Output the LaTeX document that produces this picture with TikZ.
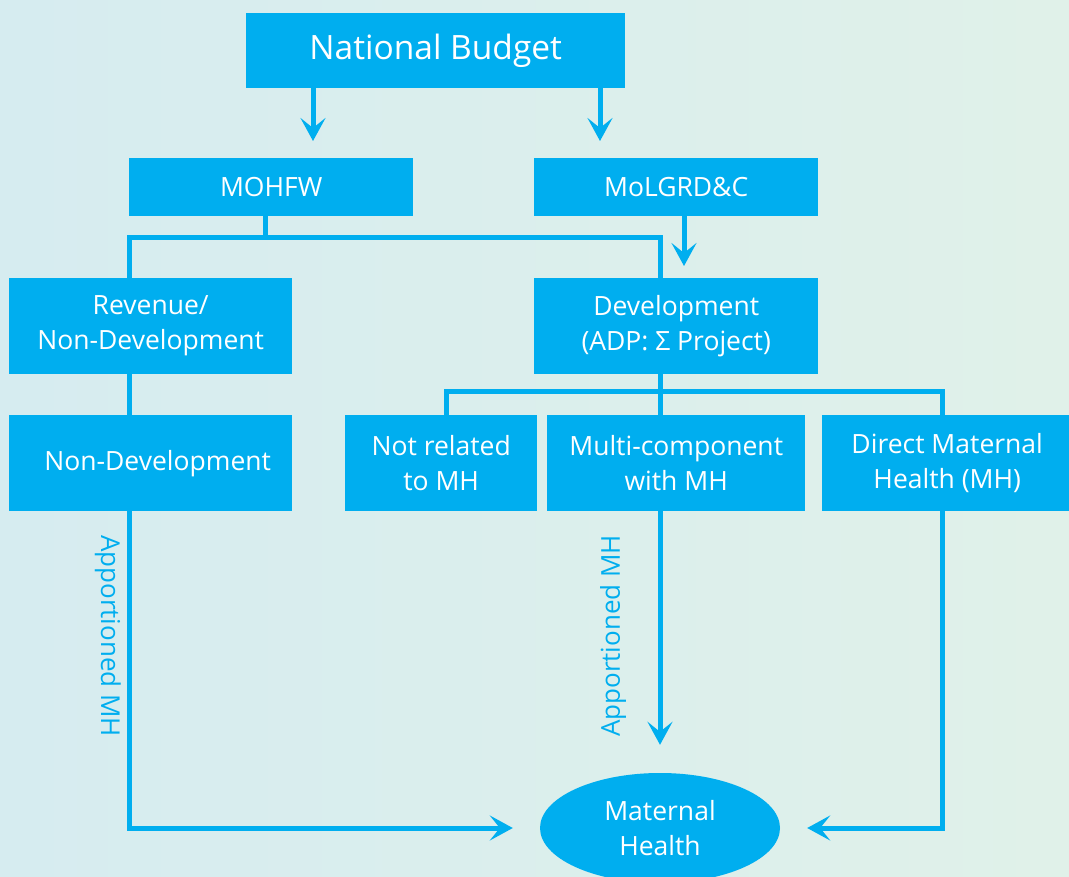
\documentclass[tikz,border=0pt]{standalone}
\usepackage{fontspec}
\setmainfont{Open Sans}
\usetikzlibrary{arrows.meta,shapes.geometric}
\definecolor{cy}{RGB}{0,174,239}
\definecolor{bgA}{RGB}{214,236,240}
\definecolor{bgB}{RGB}{224,241,233}
\tikzset{
  box/.style={fill=cy, text=white, anchor=north west, inner sep=0pt, align=center, font=\fontsize{26.5}{35}\selectfont},
  conn/.style={draw=cy, line width=5pt},
  arr/.style={draw=cy, line width=5pt, -{Stealth[length=23pt, width=25pt, inset=10pt]}},
  lbl/.style={text=cy, font=\fontsize{26}{28}\selectfont, inner sep=0pt}
}
\begin{document}
\begin{tikzpicture}[x=1pt, y=-1pt]
\useasboundingbox (0,0) rectangle (1069,877);
\shade[left color=bgA, right color=bgB] (0,0) rectangle (1069,877);

\node[box, minimum width=379pt, minimum height=75pt, font=\fontsize{33.5}{38}\selectfont] (nb) at (246,13) {National Budget};
\node[box, minimum width=284pt, minimum height=58pt] (mohfw) at (129,158) {MOHFW};
\node[box, minimum width=284pt, minimum height=58pt] (mol) at (534,158) {MoLGRD\&C};
\node[box, minimum width=283pt, minimum height=96pt] (rev) at (9,278) {\raisebox{-3pt}{\parbox{280pt}{\centering Revenue/\\Non-Development}}};
\node[box, minimum width=284pt, minimum height=96pt] (dev) at (534,278) {\raisebox{-3pt}{\parbox{280pt}{\centering Development\\(ADP: Σ Project)}}};
\node[box, minimum width=283pt, minimum height=96pt] (nondev) at (9,415) {\hspace*{14pt}Non-Development};
\node[box, minimum width=192pt, minimum height=96pt] (notrel) at (345,415) {Not related\\to MH};
\node[box, minimum width=258pt, minimum height=96pt] (multi) at (547,415) {Multi-component\\with MH};
\node[box, minimum width=250pt, minimum height=96pt] (direct) at (822,415) {Direct Maternal\\Health (MH)};
\node[ellipse, fill=cy, text=white, minimum width=240pt, minimum height=110pt, inner sep=0pt, align=center, font=\fontsize{26.5}{35}\selectfont] (mh) at (660,828) {Maternal\\Health};

% coordinates
\coordinate (x1) at (313,0);
\coordinate (x2) at (600,0);
\coordinate (x3) at (684,0);
\coordinate (ja) at (129,238);
\coordinate (jb) at (660,238);
\coordinate (jm) at (265,238);
\coordinate (kl) at (446,392);
\coordinate (kr) at (942,392);
\coordinate (kc) at (660,392);
\coordinate (bl) at (129,828);
\coordinate (br) at (942,828);

% arrows from national budget
\draw[arr, shorten >=17pt] (nb.south -| x1) -- (mohfw.north -| x1);
\draw[arr, shorten >=17pt] (nb.south -| x2) -- (mol.north -| x2);
\draw[arr, shorten >=12pt] (mol.south -| x3) -- (dev.north -| x3);

% MOHFW split
\draw[conn] (mohfw.south -| jm) -- (jm);
\draw[conn] (ja |- rev.north) -- (ja) -- (jb) -- (jb |- dev.north);
\draw[conn] (rev.south -| ja) -- (nondev.north -| ja);

% Development split
\draw[conn] (dev.south -| kc) -- (multi.north -| kc);
\draw[conn] (notrel.north -| kl) -- (kl) -- (kr) -- (direct.north -| kr);

% to maternal health
\draw[arr, shorten >=27pt] (nondev.south -| bl) -- (bl) -- (mh.west);
\draw[arr, shorten >=28pt] (multi.south -| kc) -- (mh.north);
\draw[arr, shorten >=27pt] (direct.south -| br) -- (br) -- (mh.east);

\node[lbl, rotate=-90] (la) at (108,636) {Apportioned MH};
\node[lbl, rotate=90] (lb) at (613,636) {Apportioned MH};
\end{tikzpicture}
\end{document}
